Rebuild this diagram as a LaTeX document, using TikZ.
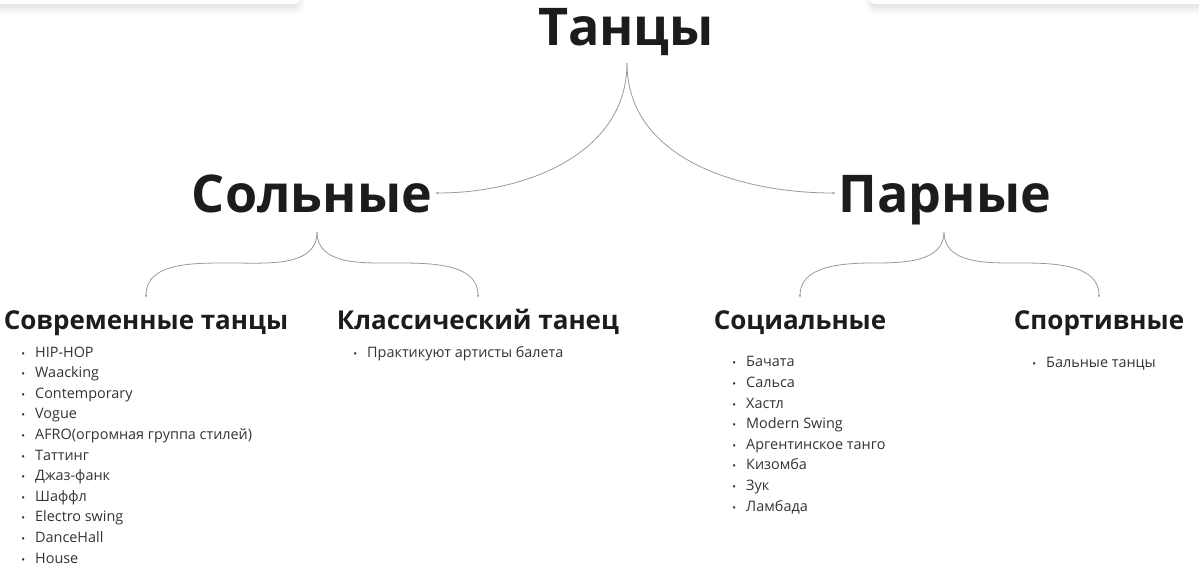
\documentclass[tikz,border=0pt]{standalone}
\usepackage{fontspec}
\setmainfont{Open Sans}
\usetikzlibrary{arrows.meta,shadows.blur}
\definecolor{ink}{HTML}{1C1C1C}
\definecolor{txt}{HTML}{333333}
\definecolor{wirec}{HTML}{9A9A9A}
\newcommand\itm{\llap{\scalebox{0.7}{\textbullet}\hspace{10pt}}}
\tikzset{
  head/.style={font=\fontsize{52}{52}\selectfont\bfseries, text=ink, inner sep=0pt, inner xsep=3pt, text height=38pt, text depth=0pt, anchor=base},
  sub/.style={font=\fontsize{26}{26}\selectfont\bfseries, text=ink, inner xsep=0pt, inner ysep=2pt, text height=29pt, text depth=0pt, anchor=base},
  lst/.style={font=\fontsize{14.4}{20.6}\selectfont, text=txt, align=left, inner sep=0pt, anchor=base west},
  wire/.style={draw=wirec, line width=0.8pt, -{Latex[length=3pt,width=2.5pt]}},
  card/.style={fill=white, rounded corners=5pt, blur shadow={shadow xshift=0pt, shadow yshift=-5pt, shadow blur radius=6pt, shadow opacity=12}}
}
\begin{document}
\begin{tikzpicture}[x=1pt,y=-1pt]
\useasboundingbox (0,0) rectangle (1199,566);
\fill[card] (-20,-40) rectangle (300,4);
\fill[card] (870,-40) rectangle (1230,4);

\node[head] (t0) at (626,45) {Танцы};
\node[head] (s1) at (312,212) {Сольные};
\node[head] (p1) at (945,212) {Парные};

\node[sub] (c1) at (146,329) {Современные танцы};
\node[sub] (c2) at (478,329) {Классический танец};
\node[sub] (c3) at (800,329) {Социальные};
\node[sub] (c4) at (1099,329) {Спортивные};

% base west = baseline of the last line
\node[lst] (l1) at (35,563) {\itm HIP-HOP\\\itm Waacking\\\itm Contemporary\\\itm Vogue\\
  \itm AFRO(огромная группа стилей)\\\itm Таттинг\\\itm Джаз-фанк\\\itm Шаффл\\
  \itm Electro swing\\\itm DanceHall\\\itm House};
\node[lst] (l2) at (367,357) {\itm Практикуют артисты балета};
\node[lst] (l3) at (746,511) {\itm Бачата\\\itm Сальса\\\itm Хастл\\\itm Modern Swing\\
  \itm Аргентинское танго\\\itm Кизомба\\\itm Зук\\\itm Ламбада};
\node[lst] (l4) at (1046,367) {\itm Бальные танцы};

\coordinate (t0b) at (627,63);
\coordinate (s1b) at (317,232);
\coordinate (p1b) at (944,232);
\draw[wire] (t0b) to[out=-90,in=0] (s1.east);
\draw[wire] (t0b) to[out=-90,in=180] (p1.west);
\draw[wire] (s1b) to[out=-90,in=0] (232,263) to[out=180,in=90] (c1.north);
\draw[wire] (s1b) to[out=-90,in=180] (397,263) to[out=0,in=90] (c2.north);
\draw[wire] (p1b) to[out=-90,in=0] (873,263) to[out=180,in=90] (c3.north);
\draw[wire] (p1b) to[out=-90,in=180] (1022,263) to[out=0,in=90] (c4.north);
\end{tikzpicture}
\end{document}
